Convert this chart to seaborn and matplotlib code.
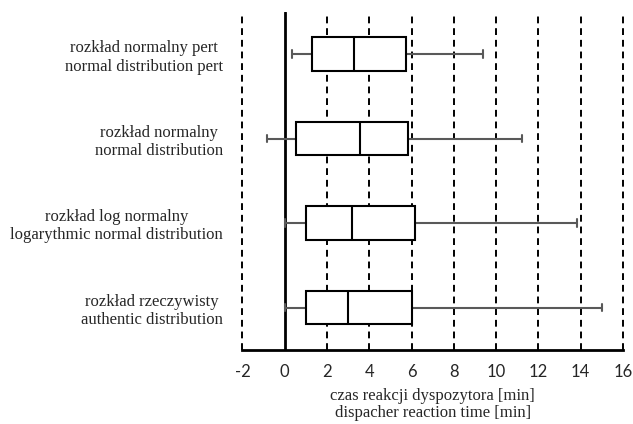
import numpy as np
import pandas as pd
import matplotlib
matplotlib.use("Agg")
import matplotlib.pyplot as plt
import seaborn as sns

categories = [
    "rozkład normalny pert\nnormal distribution pert",
    "rozkład normalny\nnormal distribution",
    "rozkład log normalny\nlogarythmic normal distribution",
    "rozkład rzeczywisty\nauthentic distribution",
]
whisker_low = [0.36, -0.85, 0.03, 0.0]
q1 = [1.29, 0.52, 0.99, 1.0]
median = [3.29, 3.56, 3.17, 3.0]
q3 = [5.73, 5.82, 6.18, 6.0]
whisker_high = [9.38, 11.25, 13.84, 15.0]
x_ticks = [-2, 0, 2, 4, 6, 8, 10, 12, 14, 16]
x_label = "czas reakcji dyspozytora [min]\ndispacher reaction time [min]"

rows = []
for c, a, b, m, d, e in zip(categories, whisker_low, q1, median, q3, whisker_high):
    for v in (a, b, m, d, e):
        rows.append({"cat": c, "val": v})
df = pd.DataFrame(rows)

sns.set_theme(style="white")
plt.rcParams["font.family"] = ["Liberation Serif", "DejaVu Serif"]

fig = plt.figure(figsize=(6.33, 4.24), dpi=100)
ax = fig.add_axes([0.383, 0.175, 0.601, 0.797])

for t in x_ticks:
    if t == 0:
        continue
    ax.axvline(t, color="black", lw=1.4, ls=(0, (3.5, 2.5)), zorder=0, clip_on=False)
ax.axvline(0, color="black", lw=2.0, zorder=1)

sns.boxplot(
    data=df, x="val", y="cat", order=categories, whis=np.inf, width=0.4,
    color="white", linecolor="black", linewidth=1.5, ax=ax,
    capwidths=0.09,
    whiskerprops=dict(color="#595959", lw=1.5),
    capprops=dict(color="#595959", lw=1.5),
    medianprops=dict(color="black", lw=1.5, zorder=5),
    boxprops=dict(edgecolor="black", lw=1.5, zorder=3),
)

ax.set_xlim(-2, 16)
ax.set_ylim(3.5, -0.5)
ax.set_xticks(x_ticks)
ax.set_xticklabels([str(t) for t in x_ticks], family=["Lato", "DejaVu Sans"], fontsize=12)
ax.tick_params(axis="x", length=0, pad=10)
ax.tick_params(axis="y", length=0, pad=14)
for lbl in ax.get_yticklabels():
    lbl.set_fontsize(12)
    lbl.set_multialignment("center")
    lbl.set_linespacing(1.2)
ax.set_ylabel("")
ax.set_xlabel(x_label, fontsize=12, linespacing=1.05, labelpad=6)
for s in ["left", "right", "top"]:
    ax.spines[s].set_visible(False)
ax.spines["bottom"].set_color("black")
ax.spines["bottom"].set_linewidth(2.0)
ax.grid(False)

fig.savefig("out.png", dpi=100, facecolor="white")
